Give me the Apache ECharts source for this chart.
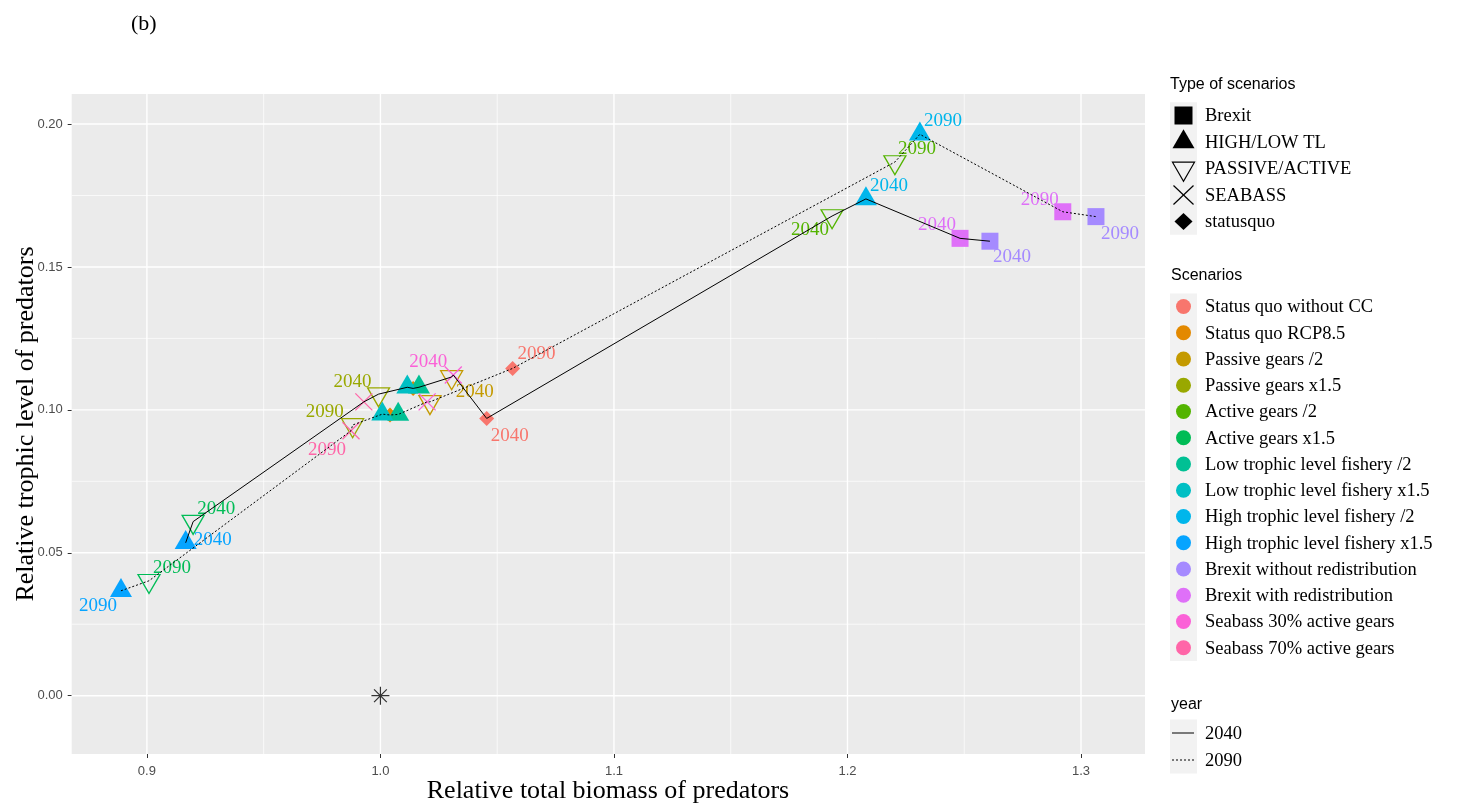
<!DOCTYPE html>
<html>
<head>
<meta charset="utf-8">
<script src="https://cdn.jsdelivr.net/npm/echarts@6/dist/echarts.min.js"></script>
<style>
html,body{margin:0;padding:0;background:#fff;}
#chart{width:1458px;height:806px;}
</style>
</head>
<body>
<div id="chart"></div>
<script>
// ---------------- DATA ----------------
const scenarios = [
  "Status quo without CC", "Status quo RCP8.5", "Passive gears /2", "Passive gears x1.5",
  "Active gears /2", "Active gears x1.5", "Low trophic level fishery /2", "Low trophic level fishery x1.5",
  "High trophic level fishery /2", "High trophic level fishery x1.5", "Brexit without redistribution",
  "Brexit with redistribution", "Seabass 30% active gears", "Seabass 70% active gears"
];
const scenarioTypes = [
  "statusquo", "statusquo", "PASSIVE/ACTIVE", "PASSIVE/ACTIVE",
  "PASSIVE/ACTIVE", "PASSIVE/ACTIVE", "HIGH/LOW TL", "HIGH/LOW TL",
  "HIGH/LOW TL", "HIGH/LOW TL", "Brexit",
  "Brexit", "SEABASS", "SEABASS"
];
const typeNames = ["Brexit", "HIGH/LOW TL", "PASSIVE/ACTIVE", "SEABASS", "statusquo"];
const scenarioColors = [
  "#F8766D", "#E38900", "#C49A00", "#99A800", "#53B400", "#00BC56", "#00C094",
  "#00BFC4", "#00B6EB", "#06A4FF", "#A58AFF", "#DF70F8", "#FB61D7", "#FF66A8"
];
const years = ["2040", "2090"];
const biomass2040 = [1.0455, 1.0140, 1.0305, 0.9992, 1.1934, 0.9198, 1.0165, 1.0115, 1.2079, 0.9166, 1.2610, 1.2482, 1.0312, 0.9929];
const trophic2040 = [0.0970, 0.1075, 0.1115, 0.1055, 0.1678, 0.0609, 0.1079, 0.1079, 0.1738, 0.0535, 0.1590, 0.1600, 0.1122, 0.1028];
const biomass2090 = [1.0566, 1.0041, 1.0212, 0.9881, 1.2203, 0.9009, 1.0076, 1.0008, 1.2310, 0.8889, 1.3064, 1.2922, 1.0200, 0.9874];
const trophic2090 = [0.1145, 0.0982, 0.1028, 0.0947, 0.1867, 0.0402, 0.0984, 0.0985, 0.1964, 0.0367, 0.1676, 0.1693, 0.1028, 0.0927];
const referencePoint = [1.0, 0.0];
const xTicks = [0.9, 1.0, 1.1, 1.2, 1.3];
const xMinorTicks = [0.95, 1.05, 1.15, 1.25];
const yTicks = [0, 0.05, 0.10, 0.15, 0.20];
const yMinorTicks = [0.025, 0.075, 0.125, 0.175];

// ---------------- LAYOUT / STYLE ----------------
const XMIN = 0.8678, XMAX = 1.3274, YMIN = -0.0204, YMAX = 0.2105;
// label offsets (px) from point for the labels that are drawn; null = hidden
const labelOffsets = {
  "2040": [[23,18], null, [23,15], [-26,-12], [-22,14], [23,-13], null, null, [23,-13], [27,-3], [22,16], [-23,-13], [-25,-13], null],
  "2090": [[24,-14], null, null, [-28,-13], [22,-13], [23,-13], null, null, [23,-13], [-23,15], [24,17], [-23,-12], null, [-24,19]]
};
const shapeStyle = {
  "Brexit":         {symbol: 'rect', size: [17, 17], off: 0, fill: true},
  "HIGH/LOW TL":    {symbol: 'triangle', size: [22, 19], off: -3.2, fill: true},
  "PASSIVE/ACTIVE": {symbol: 'path://M0,0L2,0L1,1.732Z', size: [22, 19], off: 3.2, fill: false},
  "SEABASS":        {symbol: 'path://M0,0L1,1M1,0L0,1', size: [17, 17], off: 0, fill: false},
  "statusquo":      {symbol: 'diamond', size: [15, 15], off: 0, fill: true}
};
const SERIF = "'Liberation Serif', 'Times New Roman', serif";
const SANS = "'Liberation Sans', Arial, sans-serif";

// ---------------- BUILD ----------------
const chart = echarts.init(document.getElementById('chart'), null, {renderer: 'canvas'});

const series = [];
// grid lines (white) drawn as line series through the axes
function gridLine(v, vertical, width) {
  return {
    type: 'line', silent: true, animation: false, z: 1, symbol: 'none', showSymbol: false,
    data: vertical ? [[v, YMIN], [v, YMAX]] : [[XMIN, v], [XMAX, v]],
    lineStyle: {color: '#FFFFFF', width: width}, emphasis: {disabled: true}
  };
}
xMinorTicks.forEach(v => series.push(gridLine(v, true, 0.7)));
yMinorTicks.forEach(v => series.push(gridLine(v, false, 0.7)));
xTicks.forEach(v => series.push(gridLine(v, true, 1.4)));
yTicks.forEach(v => series.push(gridLine(v, false, 1.4)));

// scenario points
scenarios.forEach((name, i) => {
  const st = shapeStyle[scenarioTypes[i]];
  const col = scenarioColors[i];
  const pts = [[biomass2040[i], trophic2040[i], years[0]], [biomass2090[i], trophic2090[i], years[1]]];
  series.push({
    type: 'scatter', name: name, z: 2, silent: true, animation: false,
    symbol: st.symbol, symbolSize: st.size, symbolOffset: [0, st.off],
    itemStyle: st.fill ? {color: col, opacity: 1} : {color: 'rgba(0,0,0,0)', borderColor: col, borderWidth: 1.3, opacity: 1},
    emphasis: {disabled: true},
    data: pts.map(p => {
      const off = labelOffsets[p[2]][i];
      return {
        value: [p[0], p[1]],
        label: off ? {
          show: true, formatter: p[2], position: 'inside', offset: [off[0], off[1] - st.off],
          color: col, fontFamily: SERIF, fontSize: 19
        } : {show: false}
      };
    })
  });
});

// reference asterisk
series.push({
  type: 'scatter', z: 2, silent: true, animation: false,
  symbol: 'path://M0.5,0L0.5,1M0,0.5L1,0.5M0.146,0.146L0.854,0.854M0.854,0.146L0.146,0.854',
  symbolSize: 18,
  itemStyle: {color: 'rgba(0,0,0,0)', borderColor: '#000', borderWidth: 1.2},
  data: [referencePoint]
});

// year lines (sorted by biomass, like geom_line)
function pathFor(xs, ys) {
  return xs.map((x, i) => [x, ys[i]]).sort((a, b) => a[0] - b[0]);
}
series.push({
  type: 'line', name: '2040', z: 3, silent: true, animation: false, symbol: 'none', showSymbol: false,
  data: pathFor(biomass2040, trophic2040), lineStyle: {color: '#000', width: 1, type: 'solid'}
});
series.push({
  type: 'line', name: '2090', z: 3, silent: true, animation: false, symbol: 'none', showSymbol: false,
  data: pathFor(biomass2090, trophic2090), lineStyle: {color: '#000', width: 1, type: [2, 2]}
});

// ---------------- LEGENDS (graphic) ----------------
const LX = 1170, KW = 27, KC = 1183.5, TX = 1205;
const graphics = [];
function txt(text, x, y, font, opts) {
  return Object.assign({type: 'text', x: x, y: y, silent: true,
    style: {text: text, font: font, fill: '#000', textAlign: 'left', textVerticalAlign: 'middle'}}, opts || {});
}
// (b)
graphics.push(txt('(b)', 131, 24, "22px " + SERIF));
// axis titles
graphics.push({type: 'text', x: 608, y: 791, silent: true,
  style: {text: 'Relative total biomass of predators', font: "26px " + SERIF, fill: '#000', textAlign: 'center', textVerticalAlign: 'middle'}});
graphics.push({type: 'text', x: 26, y: 424, rotation: Math.PI / 2, silent: true,
  style: {text: 'Relative trophic level of predators', font: "26px " + SERIF, fill: '#000', textAlign: 'center', textVerticalAlign: 'middle'}});

// legend 1: types
const T0 = 115.5, TS = 26.5;
graphics.push({type: 'rect', silent: true, shape: {x: LX, y: T0 - TS / 2, width: KW, height: TS * typeNames.length}, style: {fill: '#F2F2F2'}});
graphics.push(txt('Type of scenarios', LX, 85, "16px " + SANS));
function typeKey(type, cx, cy) {
  const blk = '#000';
  switch (type) {
    case 'Brexit':
      return [{type: 'rect', shape: {x: cx - 9, y: cy - 9, width: 18, height: 18}, style: {fill: blk}}];
    case 'HIGH/LOW TL':
      return [{type: 'polygon', shape: {points: [[cx, cy - 12.7], [cx + 11, cy + 6.3], [cx - 11, cy + 6.3]]}, style: {fill: blk}}];
    case 'PASSIVE/ACTIVE':
      return [{type: 'polygon', shape: {points: [[cx - 11, cy - 6.3], [cx + 11, cy - 6.3], [cx, cy + 12.7]]}, style: {fill: 'none', stroke: blk, lineWidth: 1.2}}];
    case 'SEABASS':
      return [
        {type: 'line', shape: {x1: cx - 10, y1: cy - 9.5, x2: cx + 10, y2: cy + 9.5}, style: {stroke: blk, lineWidth: 1.2}},
        {type: 'line', shape: {x1: cx + 10, y1: cy - 9.5, x2: cx - 10, y2: cy + 9.5}, style: {stroke: blk, lineWidth: 1.2}}
      ];
    default:
      return [{type: 'polygon', shape: {points: [[cx, cy - 8.5], [cx + 9, cy], [cx, cy + 8.5], [cx - 9, cy]]}, style: {fill: blk}}];
  }
}
typeNames.forEach((t, k) => {
  const cy = T0 + k * TS;
  typeKey(t, KC, cy).forEach(e => { e.silent = true; graphics.push(e); });
  graphics.push(txt(t, TX, cy + 1, "18.5px " + SERIF));
});

// legend 2: scenarios
const S0 = 306.5, SS = 26.25;
graphics.push(txt('Scenarios', LX + 1, 276, "16px " + SANS));
graphics.push({type: 'rect', silent: true, shape: {x: LX, y: S0 - SS / 2, width: KW, height: SS * scenarios.length}, style: {fill: '#F2F2F2'}});
scenarios.forEach((s, k) => {
  const cy = S0 + k * SS;
  graphics.push({type: 'circle', silent: true, shape: {cx: KC, cy: cy, r: 7.5}, style: {fill: scenarioColors[k]}});
  graphics.push(txt(s, TX, cy + 1, "18.5px " + SERIF));
});

// legend 3: year
const Y0 = 733, YS = 27;
graphics.push(txt('year', LX + 1, 705, "16px " + SANS));
graphics.push({type: 'rect', silent: true, shape: {x: LX, y: Y0 - YS / 2, width: KW, height: YS * years.length}, style: {fill: '#F2F2F2'}});
years.forEach((y, k) => {
  const cy = Y0 + k * YS;
  graphics.push({type: 'line', silent: true, shape: {x1: LX + 2, y1: cy, x2: LX + 24, y2: cy},
    style: {stroke: '#000', lineWidth: 1, lineDash: k === 0 ? null : [2, 2]}});
  graphics.push(txt(y, TX, cy + 1, "18.5px " + SERIF));
});

const option = {
  animation: false,
  backgroundColor: '#FFFFFF',
  grid: {left: 71.7, right: 313, top: 94, bottom: 52, show: true, backgroundColor: '#EBEBEB', borderWidth: 0, containLabel: false},
  xAxis: {
    type: 'value', min: XMIN, max: XMAX,
    axisLine: {show: false, onZero: false},
    splitLine: {show: false},
    axisTick: {show: true, customValues: xTicks, length: 4, lineStyle: {color: '#333333', width: 1}},
    axisLabel: {customValues: xTicks, formatter: v => Number(v).toFixed(1), color: '#4D4D4D', fontSize: 13, fontFamily: SANS, margin: 11}
  },
  yAxis: {
    type: 'value', min: YMIN, max: YMAX,
    axisLine: {show: false, onZero: false},
    splitLine: {show: false},
    axisTick: {show: true, customValues: yTicks, length: 4, lineStyle: {color: '#333333', width: 1}},
    axisLabel: {customValues: yTicks, formatter: v => Number(v).toFixed(2), color: '#4D4D4D', fontSize: 13, fontFamily: SANS, margin: 9}
  },
  series: series,
  graphic: {elements: graphics}
};
chart.setOption(option);
</script>
</body>
</html>
